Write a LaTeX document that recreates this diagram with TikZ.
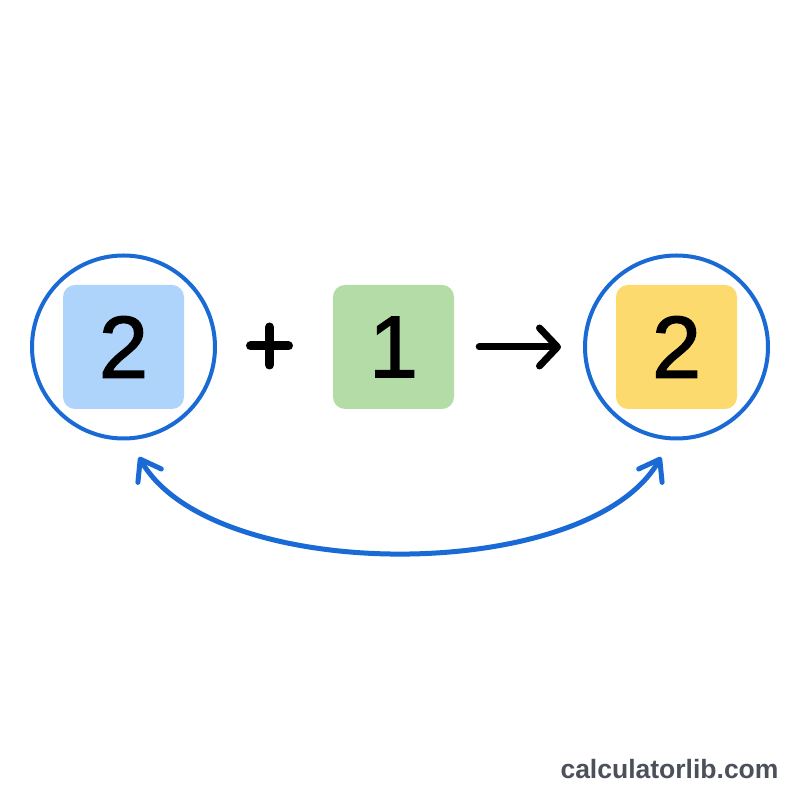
\documentclass[tikz,border=0pt]{standalone}
\usepackage{fontspec}
\setmainfont{Liberation Sans}
\newfontfamily\digitfont[FakeBold=1.6]{Liberation Sans}
\usetikzlibrary{arrows.meta}
\definecolor{ringblue}{HTML}{1A6AD6}
\definecolor{tileblue}{HTML}{AED4FC}
\definecolor{tilegreen}{HTML}{B4DCA6}
\definecolor{tileyellow}{HTML}{FDDA6D}
\definecolor{markgray}{HTML}{4B505B}
\begin{document}
\begin{tikzpicture}[x=1pt,y=1pt,
  ring/.style={circle, draw=ringblue, line width=4pt, minimum size=183pt, inner sep=0pt},
  tile/.style={rounded corners=12pt, minimum width=121pt, minimum height=124pt, inner sep=0pt,
    font=\digitfont\fontsize{88}{88}\selectfont, text=black},
  plusline/.style={line width=9pt, line cap=round, black},
  blackarrow/.style={line width=7pt, line cap=round, line join=round, black,
    -{Straight Barb[length=18pt,width=38pt,round]}},
  swaparrow/.style={line width=5pt, line cap=round, line join=round, ringblue,
    {Straight Barb[length=19pt,width=27pt,round]}-{Straight Barb[length=19pt,width=27pt,round]}},
  watermark/.style={font=\fontsize{26.5}{26.5}\selectfont\bfseries, text=markgray}
]
\fill[white] (0,0) rectangle (800,800);
\useasboundingbox (0,0) rectangle (800,800);

\node[ring] (L) at (123.5,453) {};
\node[tile, fill=tileblue] (a) at (123.5,453) {2};

\node[minimum size=47pt, inner sep=0pt] (p) at (269.5,454) {};
\draw[plusline] (p.center) +(-19,0) -- +(19,0);
\draw[plusline] (p.center) +(0,-19) -- +(0,19);

\node[tile, fill=tilegreen] (b) at (393.5,453) {1};

\node[ring] (R) at (676.5,453) {};
\node[tile, fill=tileyellow] (c) at (676.5,453) {2};

\draw[blackarrow, shorten <=25pt, shorten >=22pt] (b.east) -- (R.west);

\coordinate (lt) at (139,343);
\coordinate (rt) at (661,343);
\draw[swaparrow] (lt) .. controls (212,215) and (588,215) .. (rt);

\node[watermark, anchor=base east] (wm) at (782,21) {calculatorlib.com};
\end{tikzpicture}
\end{document}
